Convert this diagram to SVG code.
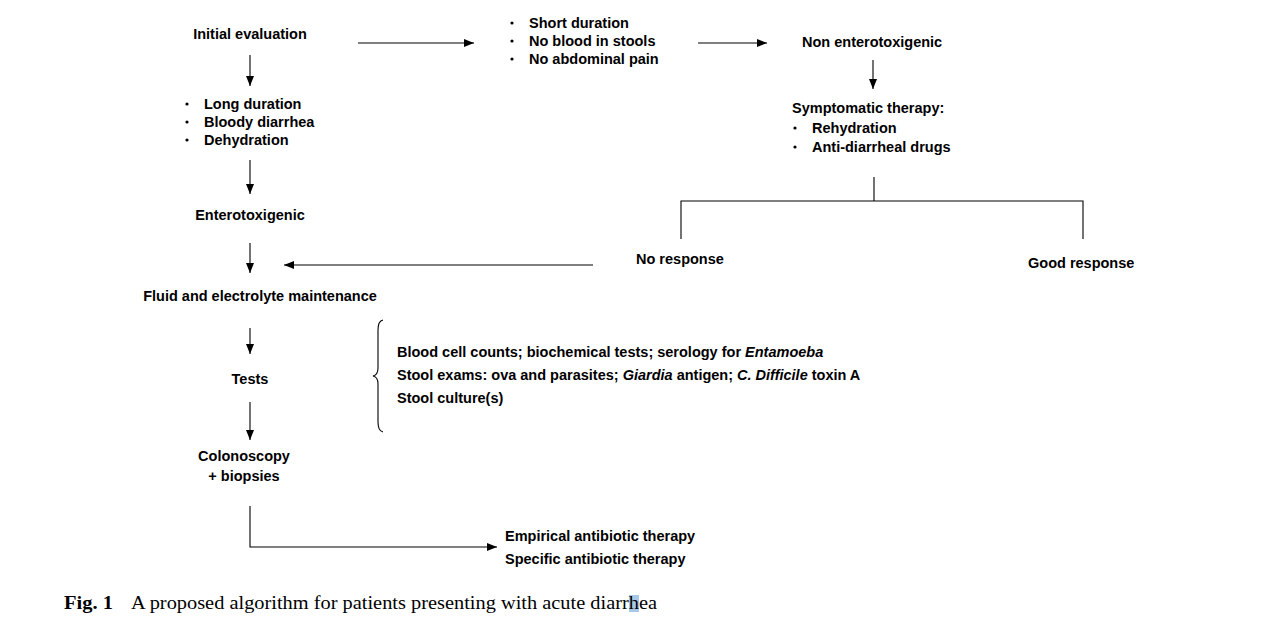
<svg xmlns="http://www.w3.org/2000/svg" width="1278" height="624" viewBox="0 0 1278 624">
<style>
.t{font-family:"Liberation Sans",Arial,sans-serif;font-weight:bold;font-size:14.5px;fill:#000}
.c{text-anchor:middle}
.ln{stroke:#000;stroke-width:1.1;fill:none}
.cap{font-family:"Liberation Serif","Times New Roman",serif;font-size:18.5px;fill:#000}
.b{fill:#000}
</style>
<defs>
<marker id="ah" viewBox="0 0 10 8" refX="10" refY="4" markerWidth="10" markerHeight="8" markerUnits="userSpaceOnUse" orient="auto">
<path d="M0,0 L10,4 L0,8 z" fill="#000"/>
</marker>
</defs>
<rect width="1278" height="624" fill="#fff"/>
<g id="connectors">
<line class="ln" x1="358" y1="43" x2="474" y2="43" marker-end="url(#ah)"/>
<line class="ln" x1="698" y1="43" x2="767" y2="43" marker-end="url(#ah)"/>
<line class="ln" x1="873" y1="60" x2="873" y2="89" marker-end="url(#ah)"/>
<path class="ln" d="M874,177 V201 M681,239 V201 H1083 V239"/>
<line class="ln" x1="593" y1="265" x2="284" y2="265" marker-end="url(#ah)"/>
<line class="ln" x1="250" y1="55" x2="250" y2="86" marker-end="url(#ah)"/>
<line class="ln" x1="250" y1="160" x2="250" y2="194" marker-end="url(#ah)"/>
<line class="ln" x1="250" y1="243" x2="250" y2="273" marker-end="url(#ah)"/>
<line class="ln" x1="250" y1="328" x2="250" y2="354" marker-end="url(#ah)"/>
<line class="ln" x1="250" y1="402" x2="250" y2="440" marker-end="url(#ah)"/>
<path class="ln" d="M250,506 V547 H497" marker-end="url(#ah)"/>
<path class="ln" d="M383,320 Q378,321 378,330 V368 Q378,375 373,376 Q378,377 378,384 V422 Q378,431 383,432"/>
</g>
<g id="initial"><text class="t c" x="250" y="39">Initial evaluation</text></g>
<g id="short">
<circle class="b" cx="512" cy="23" r="1.6"/><text class="t" x="529" y="28">Short duration</text>
<circle class="b" cx="512" cy="41" r="1.6"/><text class="t" x="529" y="46">No blood in stools</text>
<circle class="b" cx="512" cy="59" r="1.6"/><text class="t" x="529" y="64">No abdominal pain</text>
</g>
<g id="nonentero"><text class="t" x="802" y="47">Non enterotoxigenic</text></g>
<g id="symptomatic">
<text class="t" x="792" y="113">Symptomatic therapy:</text>
<circle class="b" cx="795" cy="128" r="1.6"/><text class="t" x="812" y="133">Rehydration</text>
<circle class="b" cx="795" cy="147" r="1.6"/><text class="t" x="812" y="152">Anti-diarrheal drugs</text>
</g>
<g id="noresponse"><text class="t" x="636" y="264">No response</text></g>
<g id="goodresponse"><text class="t" x="1028" y="268">Good response</text></g>
<g id="long">
<circle class="b" cx="187" cy="104" r="1.6"/><text class="t" x="204" y="109">Long duration</text>
<circle class="b" cx="187" cy="122" r="1.6"/><text class="t" x="204" y="127">Bloody diarrhea</text>
<circle class="b" cx="187" cy="140" r="1.6"/><text class="t" x="204" y="145">Dehydration</text>
</g>
<g id="entero"><text class="t c" x="250" y="220">Enterotoxigenic</text></g>
<g id="fluid"><text class="t c" x="260" y="301">Fluid and electrolyte maintenance</text></g>
<g id="tests"><text class="t c" x="250" y="384">Tests</text></g>
<g id="testlist">
<text class="t" x="397" y="357">Blood cell counts; biochemical tests; serology for <tspan font-style="italic">Entamoeba</tspan></text>
<text class="t" x="397" y="380">Stool exams: ova and parasites; <tspan font-style="italic">Giardia</tspan> antigen; <tspan font-style="italic">C. Difficile</tspan> toxin A</text>
<text class="t" x="397" y="403">Stool culture(s)</text>
</g>
<g id="colonoscopy">
<text class="t c" x="244" y="461">Colonoscopy</text>
<text class="t c" x="244" y="481">+ biopsies</text>
</g>
<g id="antibiotic">
<text class="t" x="505" y="541">Empirical antibiotic therapy</text>
<text class="t" x="505" y="564">Specific antibiotic therapy</text>
</g>
<g id="caption">
<rect x="629" y="595" width="10" height="17" fill="#a9c8e8"/>
<text class="cap" x="64" y="609" font-weight="bold" textLength="49" lengthAdjust="spacingAndGlyphs">Fig. 1</text>
<text class="cap" x="131" y="609" textLength="526" lengthAdjust="spacingAndGlyphs">A proposed algorithm for patients presenting with acute diarrhea</text>
</g>
</svg>
